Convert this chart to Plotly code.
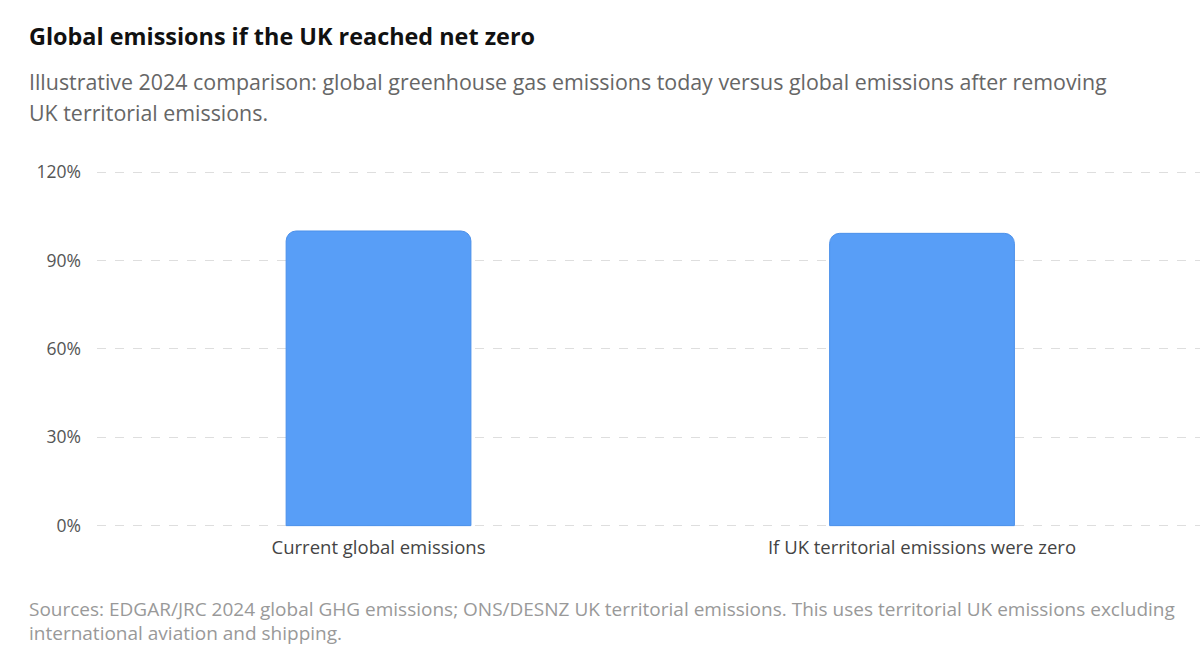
import plotly.graph_objects as go

# data
categories = ["Current global emissions", "If UK territorial emissions were zero"]
share_of_global = [100.0, 99.2]
y_ticks = [0, 30, 60, 90, 120]
y_tick_labels = [f"{v}%" for v in y_ticks]

title = "Global emissions if the UK reached net zero"
subtitle_lines = [
    "Illustrative 2024 comparison: global greenhouse gas emissions today versus global emissions after removing",
    "UK territorial emissions.",
]
source_lines = [
    "Sources: EDGAR/JRC 2024 global GHG emissions; ONS/DESNZ UK territorial emissions. This uses territorial UK emissions excluding",
    "international aviation and shipping.",
]

FONT = "'Open Sans', Inter, Roboto, sans-serif"
W, H = 1200, 658
PLOT_L, PLOT_R, PLOT_T, PLOT_B = 97, 1200, 170, 528  # pixel box of the plot area


def px_to_paper_y(y_px):
    return (PLOT_B - y_px) / (PLOT_B - PLOT_T)


def px_to_paper_x(x_px):
    return (x_px - PLOT_L) / (PLOT_R - PLOT_L)


fig = go.Figure()
fig.add_trace(
    go.Bar(
        x=categories,
        y=share_of_global,
        width=0.34,
        marker=dict(color="#589ef7", line=dict(color="#4b90ea", width=1)),
        hoverinfo="x+y",
    )
)

fig.update_layout(
    width=W,
    height=H,
    margin=dict(l=PLOT_L, r=W - PLOT_R, t=PLOT_T, b=H - PLOT_B),
    paper_bgcolor="white",
    plot_bgcolor="white",
    font=dict(family=FONT, color="#555"),
    showlegend=False,
    barcornerradius=10,
)

fig.update_xaxes(
    range=[-0.518, 1.5115],
    showgrid=False,
    showline=False,
    zeroline=False,
    ticks="",
    tickfont=dict(size=18.5, color="#444"),
    ticklabelstandoff=6,
)
fig.update_yaxes(
    range=[-0.8, 120.7],
    tickvals=y_ticks,
    ticktext=y_tick_labels,
    showgrid=True,
    gridcolor="#dedede",
    griddash="dash",
    gridwidth=1,
    zeroline=False,
    showline=False,
    ticks="",
    ticklabelstandoff=15,
    tickfont=dict(size=17.5, color="#555"),
)

# title, subtitle and sources as free text placed in pixels
text_rows = [
    (title, 36, 23.4, "#111", True),
    (subtitle_lines[0], 81, 21.4, "#666", False),
    (subtitle_lines[1], 113, 21.4, "#666", False),
    (source_lines[0], 609, 19, "#999", False),
    (source_lines[1], 633, 19, "#999", False),
]
for text, y_px, size, color, bold in text_rows:
    fig.add_annotation(
        text=f"<b>{text}</b>" if bold else text,
        xref="paper", yref="paper",
        x=px_to_paper_x(27), y=px_to_paper_y(y_px),
        xanchor="left", yanchor="middle", align="left",
        showarrow=False,
        font=dict(size=size, color=color),
    )

fig.write_html(
    "out.html",
    config={"displayModeBar": False},
    post_script="document.body.style.margin='0';",
)
